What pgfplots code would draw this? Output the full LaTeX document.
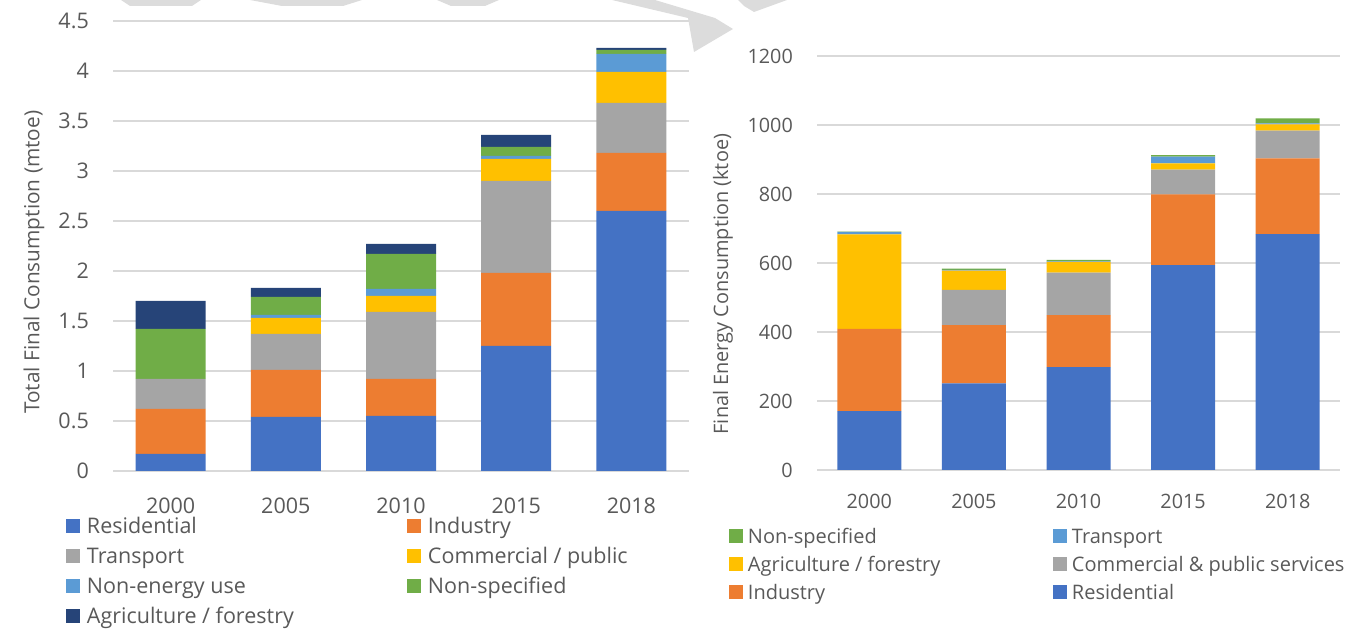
\documentclass[border=0pt]{standalone}
\usepackage{fontspec}
\setmainfont{Open Sans}
\usepackage{pgfplots}
\pgfplotsset{compat=1.18}
\usepackage{pgfplotstable}

\definecolor{cRes}{HTML}{4472C4}
\definecolor{cInd}{HTML}{ED7D31}
\definecolor{cGry}{HTML}{A5A5A5}
\definecolor{cYel}{HTML}{FFC000}
\definecolor{cLbl}{HTML}{5B9BD5}
\definecolor{cGrn}{HTML}{70AD47}
\definecolor{cNav}{HTML}{264478}
\definecolor{txtc}{HTML}{595959}
\definecolor{gridc}{HTML}{D9D9D9}
\definecolor{wmc}{HTML}{DCDCDC}

% total final consumption, mtoe
\pgfplotstableread{
x  res  ind  tra  com  nen  nsp  agr
0  0.17 0.45 0.30 0.00 0.00 0.50 0.28
1  0.54 0.47 0.36 0.16 0.03 0.18 0.09
2  0.55 0.37 0.67 0.16 0.07 0.35 0.10
3  1.25 0.73 0.92 0.22 0.03 0.09 0.12
4  2.60 0.58 0.50 0.31 0.18 0.04 0.02
}\tfc

% final energy consumption, ktoe
\pgfplotstableread{
x  res  ind  com  agr  tra  nsp
0  171  238  0    274  7    1
1  251  169  102  56   2    4
2  298  151  123  31   2    4
3  594  205  72   18   19   5
4  684  219  81   18   3    14
}\fec

\pgfplotsset{
  sqlegend/.style={legend image code/.code={\fill[##1] (0bp,-7bp) rectangle (14bp,7bp);}},
  excel/.style={
    scale only axis,
    ybar stacked,
    xmin=-0.5, xmax=4.5,
    ymin=0,
    xtick={0,1,2,3,4},
    xticklabels={2000,2005,2010,2015,2018},
    axis line style={draw=none},
    major tick length=0pt,
    ymajorgrids,
    grid style={gridc, line width=1.5bp},
    tick label style={text=txtc},
    /pgf/number format/assume math mode=true,
    /pgf/number format/1000 sep={},
    yticklabel style={anchor=east, inner sep=0pt, xshift=-24bp},
    xticklabel style={anchor=base, inner sep=0pt},
    every axis plot/.append style={draw=none},
    legend style={draw=none, fill=none, inner sep=0pt, outer sep=0pt, text=txtc},
    legend columns=2,
    every axis plot post/.append style={sqlegend},
  },
}

\newcommand\lentL[1]{\makebox[313bp][l]{\rule[-7.3bp]{0pt}{30bp}#1}}
\newcommand\lentR[1]{\makebox[300bp][l]{\rule[-6.9bp]{0pt}{28bp}#1}}

\begin{document}
\begin{tikzpicture}
\useasboundingbox (0,0) rectangle (1367bp,629bp);

% faint watermark remnants along the top edge
\begin{scope}[shift={(0,629bp)}, x=1bp, y=-1bp]
  \fill[wmc] (121,0) -- (201,0) -- (192,6) -- (130,6) -- cycle;
  \fill[wmc] (250,0) -- (362,0) -- (343,6) -- (282,6) -- cycle;
  \fill[wmc] (437,0) -- (499,0) -- (485,6) -- (451,6) -- cycle;
  \fill[wmc] (612,0) -- (688,18) -- (694,52) -- (733,29) -- (715,18) -- (655,0) -- cycle;
  \fill[wmc] (738,0) -- (787,0) -- (765,8) -- (754,12) -- (744,6) -- cycle;
\end{scope}

% left: total final consumption
\begin{axis}[
  excel,
  at={(113bp,158bp)}, anchor=south west,
  width=576bp, height=450bp,
  ymax=4.5,
  ytick={0,0.5,1,1.5,2,2.5,3,3.5,4,4.5},
  bar width=70bp,
  tick label style={font=\fontsize{21.5bp}{26bp}\selectfont},
  xticklabel style={yshift=-42bp},
  ylabel={Total Final Consumption (mtoe)},
  every axis y label/.style={at={(axis description cs:-0.137,0.464)}, rotate=90, anchor=center,
    font=\fontsize{20.8bp}{25bp}\selectfont, text=txtc},
  legend style={at={(axis description cs:-0.0816,-0.0882)}, anchor=north west,
    nodes={inner sep=0pt, text depth=7.3bp},
    column sep=7bp, row sep=0pt, font=\fontsize{21.5bp}{26bp}\selectfont},
]
\addplot[fill=cRes] table[x=x, y=res] {\tfc};
\addlegendentry{\lentL{Residential}}
\addplot[fill=cInd] table[x=x, y=ind] {\tfc};
\addlegendentry{\lentL{Industry}}
\addplot[fill=cGry] table[x=x, y=tra] {\tfc};
\addlegendentry{\lentL{Transport}}
\addplot[fill=cYel] table[x=x, y=com] {\tfc};
\addlegendentry{\lentL{Commercial / public}}
\addplot[fill=cLbl] table[x=x, y=nen] {\tfc};
\addlegendentry{\lentL{Non-energy use}}
\addplot[fill=cGrn] table[x=x, y=nsp] {\tfc};
\addlegendentry{\lentL{Non-specified}}
\addplot[fill=cNav] table[x=x, y=agr] {\tfc};
\addlegendentry{\lentL{Agriculture / forestry}}
\end{axis}

% right: final energy consumption
\begin{axis}[
  excel,
  at={(817bp,159bp)}, anchor=south west,
  width=523bp, height=414bp,
  ymax=1200,
  ytick={0,200,400,600,800,1000,1200},
  bar width=64bp,
  tick label style={font=\fontsize{19.8bp}{24bp}\selectfont},
  xticklabel style={yshift=-38bp},
  ylabel={Final Energy Consumption (ktoe)},
  every axis y label/.style={at={(axis description cs:-0.180,0.449)}, rotate=90, anchor=center,
    font=\fontsize{19.9bp}{24bp}\selectfont, text=txtc},
  reverse legend,
  legend style={at={(axis description cs:-0.1683,-0.1258)}, anchor=north west,
    nodes={inner sep=0pt, text depth=6.9bp},
    column sep=5bp, row sep=0pt, font=\fontsize{20bp}{24bp}\selectfont},
]
\addplot[fill=cRes] table[x=x, y=res] {\fec};
\addlegendentry{\lentR{Residential}}
\addplot[fill=cInd] table[x=x, y=ind] {\fec};
\addlegendentry{\lentR{Industry}}
\addplot[fill=cGry] table[x=x, y=com] {\fec};
\addlegendentry{\lentR{Commercial \& public services}}
\addplot[fill=cYel] table[x=x, y=agr] {\fec};
\addlegendentry{\lentR{Agriculture / forestry}}
\addplot[fill=cLbl] table[x=x, y=tra] {\fec};
\addlegendentry{\lentR{Transport}}
\addplot[fill=cGrn] table[x=x, y=nsp] {\fec};
\addlegendentry{\lentR{Non-specified}}
\end{axis}
\end{tikzpicture}
\end{document}
